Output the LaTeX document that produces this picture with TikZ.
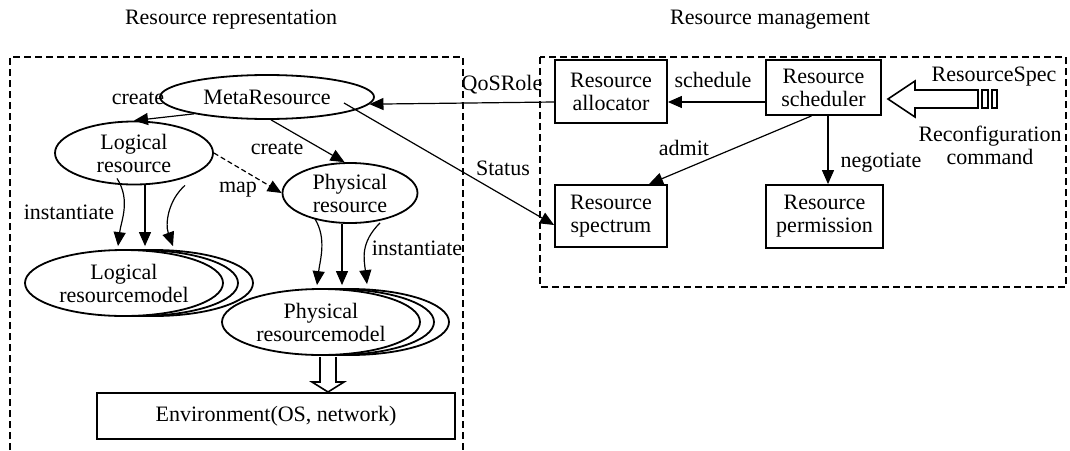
\documentclass[tikz,border=0pt]{standalone}
\usepackage{fontspec}
\setmainfont{Liberation Serif}
\usetikzlibrary{shapes.geometric,arrows.meta,calc}

\begin{document}
\begin{tikzpicture}[x=1pt, y=-1pt, font=\fontsize{22}{23}\selectfont]
	% Stili per nodi e frecce
	\tikzset{
		ovale/.style={ellipse, draw, line width=1.8pt, fill=white, inner sep=0pt, align=center},
		blocco/.style={rectangle, draw, line width=1.8pt, fill=white, inner sep=0pt, align=center},
		freccia/.style={-{Triangle[length=14pt,width=12pt]}, line width=1.2pt},
		cornice/.style={line width=1.5pt, dash pattern=on 7pt off 4pt},
		cava/.style={draw, line width=1.6pt, fill=white}
	}
	\useasboundingbox (0,0) rectangle (1070,450);

	% Cornici tratteggiate e titoli
	\draw[cornice] (10,450) -- (10,57) -- (463,57) -- (463,450);
	\draw[cornice] (540,57) rectangle (1066,287);
	\node (tit1) at (231,20) {Resource representation};
	\node (tit2) at (770,20) {Resource management};

	% Nodi della rappresentazione
	\node[ovale, minimum width=214, minimum height=44] (meta) at (267,97) {MetaResource};
	\node[ovale, minimum width=158, minimum height=63] (logres) at (134,153) {Logical\\resource};
	\node[ovale, minimum width=135, minimum height=60] (phyres) at (350,193) {Physical\\resource};
	\node[ovale, minimum width=198, minimum height=66] (logmod3) at (154,283) {};
	\node[ovale, minimum width=198, minimum height=66] (logmod2) at (139,283) {};
	\node[ovale, minimum width=198, minimum height=66] (logmod) at (124,283) {Logical\\resourcemodel};
	\node[ovale, minimum width=198, minimum height=66] (phymod3) at (350,322) {};
	\node[ovale, minimum width=198, minimum height=66] (phymod2) at (335,322) {};
	\node[ovale, minimum width=198, minimum height=66] (phymod) at (321,322) {Physical\\resourcemodel};
	\node[blocco, minimum width=358, minimum height=46] (env) at (276,416) {Environment(OS, network)};

	% Nodi della gestione
	\node[blocco, minimum width=112, minimum height=63] (alloc) at (611,91.5) {Resource\\allocator};
	\node[blocco, minimum width=115, minimum height=55] (sched) at (823.5,87.5) {Resource\\scheduler};
	\node[blocco, minimum width=112, minimum height=62] (spect) at (611,216) {Resource\\spectrum};
	\node[blocco, minimum width=117, minimum height=63] (perm) at (824.5,216.5) {Resource\\permission};

	% Archi a sinistra
	\draw[freccia] (meta.193) -- (logres.north);
	\draw[freccia] (meta.280) -- (phyres.100);
	\draw[freccia, dash pattern=on 5pt off 3pt] (logres.east) -- (phyres.west);
	\draw[freccia] ($(logres.south)+(-17,-7)$) .. controls +(14,22) and +(3,-25) .. ($(logmod.north)+(-6,-3)$);
	\draw[freccia] ($(logres.south)+(11,0)$) -- ($(logmod.north)+(21,-3)$);
	\draw[freccia] ($(logres.south)+(51,0)$) .. controls +(-17,15) and +(-8,-22) .. ($(logmod.north)+(49,-3)$);
	\draw[freccia] ($(phyres.south)+(-35,-5)$) .. controls +(12,20) and +(3,-25) .. ($(phymod.north)+(-4,-3)$);
	\draw[freccia] ($(phyres.south)+(-8,0)$) -- ($(phymod.north)+(21,-3)$);
	\draw[freccia] ($(phyres.south)+(30,-1)$) .. controls +(-20,20) and +(-3,-25) .. ($(phymod.north)+(46,-4)$);
	\draw[cava] (320,357) -- (320,382) -- (312,382) -- (328,392) -- (344,382) -- (336,382) -- (336,357);

	% Archi a destra
	\coordinate (stato) at ($(meta.center)+(77,6)$);
	\draw[freccia] ($(sched.west)+(0,14.5)$) -- ($(alloc.east)+(0,10.5)$);
	\draw[freccia] ($(alloc.west)+(0,10.5)$) -- (meta.-4);
	\draw[freccia] (stato) -- ($(spect.west)+(0,9)$);
	\draw[freccia] ($(sched.south)+(-12,0)$) -- ($(spect.north)+(38,0)$);
	\draw[freccia] ($(sched.south)+(4.5,0)$) -- ($(perm.north)+(3.5,0)$);
	\draw[cava] (888,99) -- (915,81) -- (915,90) -- (978,90) -- (978,108) -- (915,108) -- (915,117) -- cycle;
	\draw[line width=1.4pt] (982,90) rectangle (988,108);
	\draw[line width=1.4pt] (992,90) rectangle (997,108);

	% Etichette
	\node (lcrea1) at (138,98) {create};
	\node (lcrea2) at (277,148) {create};
	\node (lmap) at (238,190) {map};
	\node (linst1) at (69,212) {instantiate};
	\node (linst2) at (417,248) {instantiate};
	\node (lqos) at (502,85) {QoSRole};
	\node (lstat) at (503,168) {Status};
	\node (lsched) at (713,80) {schedule};
	\node (ladmit) at (684,148) {admit};
	\node (lneg) at (881,163) {negotiate};
	\node (lspec) at (994,77) {ResourceSpec};
	\node[align=center] (lcmd) at (990,145) {Reconfiguration\\command};
\end{tikzpicture}
\end{document}
